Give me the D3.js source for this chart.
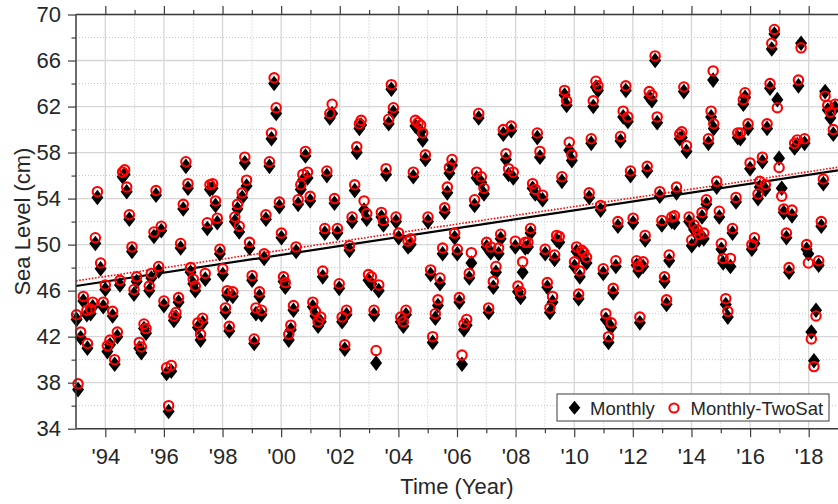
<!DOCTYPE html>
<html>
<head>
<meta charset="utf-8">
<script src="https://cdn.jsdelivr.net/npm/d3@7"></script>
<style>
  html, body { margin: 0; padding: 0; background: #fff; }
  svg { display: block; font-family: "Liberation Sans", Arial, Helvetica, sans-serif; }
</style>
</head>
<body>
<svg id="chart" width="838" height="504"></svg>
<script>
// Monthly sea level, 1993 - 2018 (decimal year, cm)
const years = [
  1993.02,1993.07,1993.16,1993.25,1993.39,1993.37,1993.50,1993.57,1993.66,1993.73,1993.84,1993.93,
  1994.00,1994.07,1994.16,1994.25,1994.32,1994.41,1994.50,1994.59,1994.66,1994.73,1994.82,1994.91,1994.98,
  1995.07,1995.16,1995.23,1995.32,1995.39,1995.50,1995.57,1995.66,1995.73,1995.82,1995.91,
  1996.00,1996.09,1996.16,1996.25,1996.34,1996.41,1996.50,1996.57,1996.66,1996.75,1996.82,1996.91,
  1997.00,1997.07,1997.16,1997.25,1997.32,1997.41,1997.48,1997.57,1997.66,1997.76,1997.82,1997.91,
  1998.01,1998.10,1998.16,1998.23,1998.35,1998.42,1998.51,1998.57,1998.67,1998.76,1998.82,1998.92,
  1999.01,1999.08,1999.14,1999.26,1999.33,1999.42,1999.48,1999.60,1999.67,1999.76,1999.83,1999.94,
  2000.01,2000.08,2000.14,2000.26,2000.33,2000.42,2000.51,2000.58,2000.67,2000.74,2000.83,2000.90,2000.99,
  2001.08,2001.17,2001.26,2001.35,2001.42,2001.49,2001.56,2001.66,2001.74,2001.82,2001.92,2001.98,
  2002.08,2002.17,2002.23,2002.33,2002.42,2002.51,2002.58,2002.67,2002.73,2002.83,2002.92,2002.98,
  2003.08,2003.17,2003.24,2003.33,2003.42,2003.49,2003.58,2003.67,2003.76,2003.83,2003.92,
  2004.01,2004.08,2004.17,2004.26,2004.33,2004.42,2004.51,2004.58,2004.67,2004.76,2004.83,2004.92,
  2005.01,2005.10,2005.17,2005.26,2005.35,2005.42,2005.51,2005.58,2005.67,2005.74,2005.83,2005.92,
  2006.01,2006.08,2006.17,2006.24,2006.33,2006.42,2006.49,2006.60,2006.67,2006.74,2006.83,2006.92,
  2007.01,2007.08,2007.15,2007.24,2007.33,2007.42,2007.49,2007.58,2007.67,2007.76,2007.85,2007.92,2007.99,
  2008.08,2008.17,2008.24,2008.33,2008.42,2008.51,2008.58,2008.67,2008.74,2008.83,2008.92,
  2009.01,2009.08,2009.17,2009.26,2009.33,2009.40,2009.49,2009.58,2009.67,2009.74,2009.83,2009.92,
  2010.01,2010.08,2010.15,2010.19,2010.26,2010.33,2010.42,2010.51,2010.58,2010.65,2010.74,2010.81,2010.90,2010.99,
  2011.08,2011.17,2011.26,2011.33,2011.42,2011.49,2011.58,2011.67,2011.76,2011.83,2011.92,
  2012.01,2012.13,2012.19,2012.24,2012.35,2012.42,2012.49,2012.56,2012.65,2012.76,2012.83,2012.92,2012.99,
  2013.08,2013.15,2013.24,2013.33,2013.42,2013.49,2013.60,2013.67,2013.74,2013.83,2013.92,
  2014.01,2014.09,2014.19,2014.26,2014.36,2014.42,2014.51,2014.58,2014.67,2014.74,2014.76,2014.86,2014.95,
  2015.02,2015.08,2015.17,2015.24,2015.33,2015.40,2015.52,2015.58,2015.67,2015.77,2015.83,2015.93,
  2016.00,2016.06,2016.15,2016.27,2016.33,2016.42,2016.52,2016.58,2016.68,2016.74,2016.83,2016.93,2016.99,
  2017.08,2017.15,2017.24,2017.33,2017.43,2017.52,2017.61,2017.65,2017.74,2017.86,2017.93,2017.99,
  2018.09,2018.18,2018.25,2018.34,2018.43,2018.50,2018.56,2018.65,2018.74,2018.84,2018.90
];

const monthlyTwoSat = [
  43.9,37.9,42.4,45.5,41.4,44.3,44.4,45.0,50.6,54.6,48.4,45.0,
  46.5,41.2,41.7,44.2,40.0,42.4,46.9,56.3,56.5,55.0,52.6,49.8,46.1,
  47.2,41.5,41.1,43.1,42.7,46.4,47.5,51.1,54.7,48.1,51.6,
  45.1,39.3,36.0,39.5,43.8,44.1,45.4,50.1,53.5,57.2,55.3,48.0,
  47.0,46.4,43.2,42.2,43.6,47.5,51.9,55.2,55.3,53.8,52.3,49.6,
  47.9,44.5,46.0,42.9,45.9,52.4,53.5,51.6,54.5,57.6,55.6,50.2,
  47.3,41.8,44.5,45.9,44.3,49.2,52.6,57.2,59.7,64.5,61.9,53.7,
  51.0,47.2,46.7,42.2,43.0,44.7,49.8,53.9,55.2,56.1,58.1,56.3,54.2,
  45.0,44.2,43.3,43.7,47.7,51.4,56.4,61.4,62.2,54.0,51.4,46.6,
  43.7,41.3,44.3,49.9,52.4,55.2,58.5,60.5,60.8,53.8,52.7,47.4,
  47.2,44.3,40.8,46.5,52.8,52.1,56.6,60.9,63.9,61.9,52.4,
  51.0,43.7,43.3,44.3,50.3,50.5,56.3,60.8,60.6,60.4,59.7,57.8,
  52.4,47.8,42.0,44.0,45.2,47.1,49.7,53.2,55.0,56.7,57.4,51.0,
  49.6,45.4,40.4,43.1,43.5,47.5,49.3,53.9,56.3,61.4,55.9,54.9,
  50.2,44.5,49.8,46.8,48.1,49.7,50.9,60.0,57.9,56.6,60.3,56.3,50.3,
  46.4,45.9,48.5,50.2,50.2,51.4,55.3,54.8,59.7,58.1,54.3,
  49.6,46.7,44.5,45.5,49.1,50.8,50.7,55.9,63.4,62.5,58.9,57.8,
  48.5,49.8,45.7,47.7,49.5,49.3,48.9,54.5,59.2,62.5,64.2,63.8,53.4,47.9,
  44.0,42.0,43.2,46.2,48.6,52.0,59.4,61.6,63.8,61.1,56.4,
  52.3,48.6,48.1,43.7,48.5,50.8,56.8,63.3,63.0,66.4,61.1,54.6,52.1,
  47.2,45.2,49.1,52.4,52.5,55.0,59.6,59.8,63.7,58.6,52.4,
  50.4,51.7,51.3,50.9,52.8,51.0,53.9,59.2,61.6,65.1,60.5,55.5,52.9,
  50.1,48.8,45.3,44.2,48.8,51.4,54.1,59.7,59.7,62.6,63.2,60.5,
  57.1,50.0,50.6,54.4,55.5,57.6,55.2,60.5,64.0,67.5,68.7,61.9,56.7,
  54.2,53.1,51.0,48.0,53.0,58.8,59.1,64.3,67.1,59.2,50.0,48.4,
  41.8,39.4,43.8,48.6,52.0,55.7,62.9,62.1,61.5,60.0,62.2
];

const monthly = [
  43.5,37.4,41.9,45.1,41.0,43.9,44.0,44.6,50.1,54.1,47.9,44.6,
  46.1,40.7,41.3,43.8,39.6,42.0,46.5,55.9,56.1,54.6,52.2,49.4,45.7,
  46.8,41.0,40.6,42.7,42.3,46.0,47.1,50.7,54.3,47.7,51.2,
  44.7,38.8,35.5,39.0,43.4,43.7,45.0,49.7,53.1,56.8,54.9,47.6,
  46.6,46.0,42.8,41.7,43.2,47.0,51.4,54.8,54.9,53.4,51.9,49.2,
  47.4,44.1,45.6,42.5,45.5,52.0,53.1,51.1,54.1,57.1,55.1,49.7,
  46.9,41.4,44.0,45.5,43.9,48.8,52.2,56.8,59.2,64.0,61.4,53.3,
  50.6,46.8,46.3,41.7,42.6,44.3,49.4,53.5,54.8,55.6,57.7,55.8,53.8,
  44.6,43.8,42.9,43.3,47.2,51.0,56.0,61.0,61.4,53.6,51.0,46.2,
  43.3,40.9,43.9,49.5,52.0,54.7,58.0,60.1,60.4,53.0,52.2,46.9,
  46.6,43.9,39.7,46.0,52.4,51.7,56.1,60.5,63.5,61.5,52.0,
  50.6,43.3,42.9,43.9,49.8,50.0,55.9,60.3,60.1,59.8,59.1,57.4,
  52.0,47.4,41.5,43.6,44.7,46.6,49.2,52.8,54.5,56.2,56.9,50.6,
  49.2,45.0,39.6,42.6,43.0,47.1,48.4,53.4,55.8,61.0,55.4,54.4,
  49.8,44.1,49.3,46.3,47.6,49.2,50.5,59.6,57.4,56.1,59.9,55.8,49.8,
  45.9,45.4,47.6,49.7,49.8,51.0,54.9,54.4,59.3,57.6,53.9,
  49.2,46.3,44.1,45.0,48.7,50.4,50.2,55.5,63.0,62.1,58.2,57.3,
  48.1,49.4,45.3,47.2,49.1,48.8,48.4,54.1,58.8,62.0,63.7,63.4,53.0,47.5,
  43.5,41.5,42.8,45.8,48.1,51.6,59.0,61.1,63.4,60.7,56.0,
  51.9,48.2,47.7,43.2,48.1,50.4,56.4,62.8,62.5,66.0,60.6,54.2,51.7,
  46.8,44.8,48.6,52.0,51.9,54.5,59.2,59.3,63.3,58.1,52.0,
  49.9,51.3,50.9,50.4,52.4,50.5,53.5,58.8,61.1,64.3,60.1,55.0,52.4,
  49.6,48.4,44.8,43.7,48.1,51.0,53.7,59.3,59.2,62.2,62.8,60.1,
  56.6,49.6,50.1,54.0,55.0,57.2,54.8,60.1,63.6,67.0,68.3,62.6,57.5,
  54.9,52.8,50.6,47.6,52.5,58.4,58.7,63.8,67.5,58.8,49.6,49.2,
  42.4,39.9,44.3,48.2,51.6,55.3,63.3,61.7,61.0,59.6,61.9
];

// Linear trends (cm) at the ends of the time axis
const trendYears = [1993, 2019];
const trendMonthly = [46.4, 56.45];
const trendTwoSat = [46.85, 56.72];

// Axis ticks
const xMajorTicks = [1994, 1996, 1998, 2000, 2002, 2004, 2006, 2008, 2010, 2012, 2014, 2016, 2018];
const xMinorTicks = [1995, 1997, 1999, 2001, 2003, 2005, 2007, 2009, 2011, 2013, 2015, 2017];
const xTickLabels = ["'94", "'96", "'98", "'00", "'02", "'04", "'06", "'08", "'10", "'12", "'14", "'16", "'18"];
const yMajorTicks = [34, 38, 42, 46, 50, 54, 58, 62, 66, 70];
const yMinorTicks = [36, 40, 44, 48, 52, 56, 60, 64, 68];

const seriesNames = ["Monthly", "Monthly-TwoSat"];

const svg = d3.select("#chart");
const plotLeft = 76, plotRight = 838, plotTop = 14.5, plotBottom = 428.7;

const x = d3.scaleLinear().domain([1993, 2019]).range([plotLeft, plotRight]);
const y = d3.scaleLinear().domain([34, 70]).range([plotBottom, plotTop]);

const axisColor = "#3c3c3c";
const textColor = "#262626";

// grid
const grid = svg.append("g");
grid.selectAll(".gxm").data(xMinorTicks).join("line")
  .attr("x1", d => x(d)).attr("x2", d => x(d)).attr("y1", plotTop).attr("y2", plotBottom)
  .attr("stroke", "#c4c4c4").attr("stroke-width", 1).attr("stroke-dasharray", "1,2");
grid.selectAll(".gym").data(yMinorTicks).join("line")
  .attr("x1", plotLeft).attr("x2", plotRight).attr("y1", d => y(d)).attr("y2", d => y(d))
  .attr("stroke", "#c4c4c4").attr("stroke-width", 1).attr("stroke-dasharray", "1,2");
grid.selectAll(".gx").data(xMajorTicks).join("line")
  .attr("x1", d => x(d)).attr("x2", d => x(d)).attr("y1", plotTop).attr("y2", plotBottom)
  .attr("stroke", "#d6d6d6").attr("stroke-width", 1.3);
grid.selectAll(".gy").data(yMajorTicks).join("line")
  .attr("x1", plotLeft).attr("x2", plotRight).attr("y1", d => y(d)).attr("y2", d => y(d))
  .attr("stroke", "#d6d6d6").attr("stroke-width", 1.3);

// trend lines
const trendLine = (vals) => d3.line().x((d, i) => x(trendYears[i])).y(d => y(d))(vals);
svg.append("path").attr("d", trendLine(trendMonthly))
  .attr("fill", "none").attr("stroke", "#000").attr("stroke-width", 2.2);
svg.append("path").attr("d", trendLine(trendTwoSat))
  .attr("fill", "none").attr("stroke", "#ff0000").attr("stroke-width", 1.6)
  .attr("stroke-dasharray", "1.6,1.6");

// markers
const diamond = "M0,-7.8L6,0L0,7.8L-6,0Z";
const pts = years.map((t, i) => ({ t, m: monthly[i], s: monthlyTwoSat[i] }));

svg.append("g").selectAll("path").data(pts).join("path")
  .attr("d", diamond)
  .attr("transform", d => `translate(${x(d.t)},${y(d.m)})`)
  .attr("fill", "#000");

svg.append("g").selectAll("circle").data(pts).join("circle")
  .attr("cx", d => x(d.t)).attr("cy", d => y(d.s)).attr("r", 4.7)
  .attr("fill", "none").attr("stroke", "#ff0000").attr("stroke-width", 2.1);

// axes: bottom and top share ticks, left carries labels
const styleTicks = g => {
  g.select(".domain").remove();
  g.selectAll(".tick line").attr("stroke", axisColor).attr("stroke-width", 1.2);
  g.selectAll(".tick text").attr("fill", textColor).attr("font-size", 22)
    .attr("font-family", "Liberation Sans, Arial, sans-serif");
};

svg.append("g").attr("transform", `translate(0,${plotBottom})`)
  .call(d3.axisBottom(x).tickValues(xMajorTicks).tickFormat((d, i) => xTickLabels[i])
    .tickSize(8.5).tickPadding(11))
  .call(styleTicks);
svg.append("g").attr("transform", `translate(0,${plotBottom})`)
  .call(d3.axisBottom(x).tickValues(xMinorTicks).tickFormat("").tickSize(4.5))
  .call(styleTicks);
svg.append("g").attr("transform", `translate(0,${plotTop})`)
  .call(d3.axisTop(x).tickValues(xMajorTicks).tickFormat("").tickSize(8.5))
  .call(styleTicks);
svg.append("g").attr("transform", `translate(0,${plotTop})`)
  .call(d3.axisTop(x).tickValues(xMinorTicks).tickFormat("").tickSize(4.5))
  .call(styleTicks);
svg.append("g").attr("transform", `translate(${plotLeft},0)`)
  .call(d3.axisLeft(y).tickValues(yMajorTicks).tickFormat(d3.format("d"))
    .tickSize(8).tickPadding(7))
  .call(styleTicks);
svg.append("g").attr("transform", `translate(${plotLeft},0)`)
  .call(d3.axisLeft(y).tickValues(yMinorTicks).tickFormat("").tickSize(4.5))
  .call(styleTicks);

// frame lines
svg.append("line").attr("x1", plotLeft).attr("x2", plotRight).attr("y1", plotTop).attr("y2", plotTop)
  .attr("stroke", axisColor).attr("stroke-width", 1.5);
svg.append("line").attr("x1", plotLeft).attr("x2", plotRight).attr("y1", plotBottom).attr("y2", plotBottom)
  .attr("stroke", axisColor).attr("stroke-width", 1.5);
svg.append("line").attr("x1", plotLeft).attr("x2", plotLeft).attr("y1", plotTop).attr("y2", plotBottom)
  .attr("stroke", axisColor).attr("stroke-width", 1.5);

// axis titles
svg.append("text").attr("x", (plotLeft + plotRight) / 2).attr("y", 494)
  .attr("text-anchor", "middle").attr("font-size", 22).attr("fill", textColor)
  .text("Time (Year)");
svg.append("text").attr("transform", `translate(30,${(plotTop + plotBottom) / 2}) rotate(-90)`)
  .attr("text-anchor", "middle").attr("font-size", 22).attr("fill", textColor)
  .text("Sea Level (cm)");

// legend
const lg = svg.append("g");
lg.append("rect").attr("x", 557).attr("y", 394).attr("width", 272).attr("height", 27)
  .attr("fill", "#fff").attr("stroke", axisColor).attr("stroke-width", 1);
lg.append("path").attr("d", "M0,-7L5.8,0L0,7L-5.8,0Z").attr("transform", "translate(574.5,407.7)").attr("fill", "#000");
lg.append("text").attr("x", 590).attr("y", 415).attr("font-size", 18.5).attr("fill", textColor)
  .text(seriesNames[0]);
lg.append("circle").attr("cx", 674).attr("cy", 408).attr("r", 4.6)
  .attr("fill", "none").attr("stroke", "#ff0000").attr("stroke-width", 2);
lg.append("text").attr("x", 690.5).attr("y", 415).attr("font-size", 18.5).attr("fill", textColor)
  .text(seriesNames[1]);
</script>
</body>
</html>
